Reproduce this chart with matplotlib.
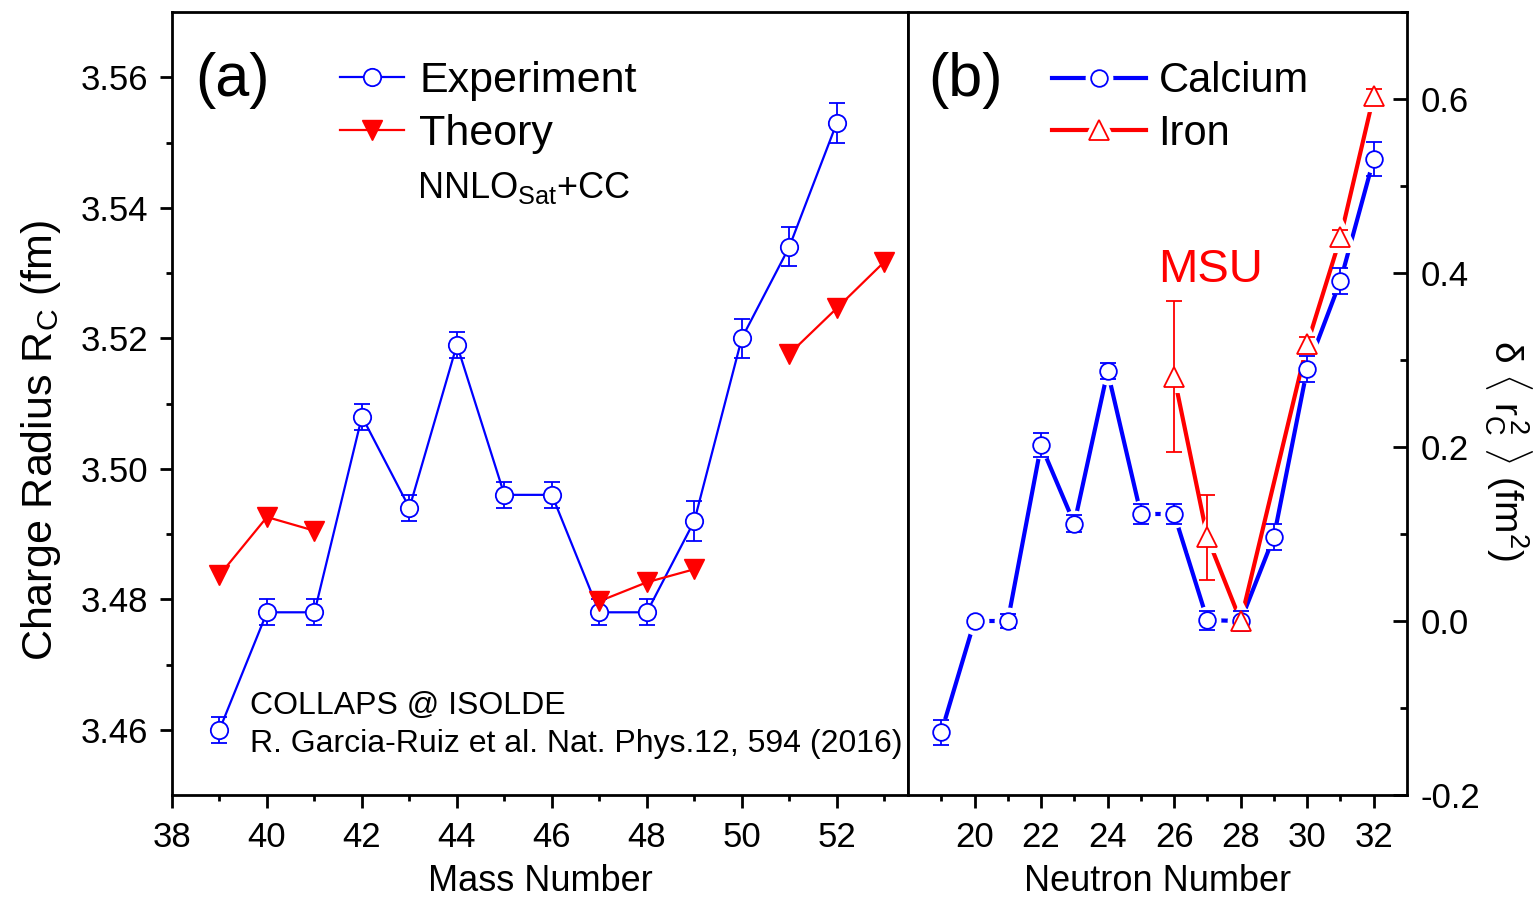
import numpy as np
import matplotlib
matplotlib.use("Agg")
import matplotlib.pyplot as plt
from matplotlib.ticker import FixedLocator, FormatStrFormatter
from matplotlib.legend_handler import HandlerTuple

plt.rcParams['font.family'] = ['Liberation Sans', 'DejaVu Sans']
plt.rcParams['mathtext.fontset'] = 'custom'
plt.rcParams['mathtext.rm'] = 'Liberation Sans'
plt.rcParams['mathtext.it'] = 'Liberation Sans:italic'
plt.rcParams['mathtext.sf'] = 'Liberation Sans'

# ---------------- data: panel (a) ----------------
exp_A = [39, 40, 41, 42, 43, 44, 45, 46, 47, 48, 49, 50, 51, 52]
exp_R = [3.460, 3.478, 3.478, 3.508, 3.494, 3.519, 3.496, 3.496, 3.478, 3.478, 3.492, 3.520, 3.534, 3.553]
exp_err = [0.002, 0.002, 0.002, 0.002, 0.002, 0.002, 0.002, 0.002, 0.002, 0.002, 0.003, 0.003, 0.003, 0.003]

theo_A = [39, 40, 41, 47, 48, 49, 51, 52, 53]
theo_R = [3.4837, 3.4926, 3.4905, 3.4797, 3.4826, 3.4846, 3.5176, 3.5246, 3.5317]

# ---------------- data: panel (b) ----------------
ca_N = [19, 20, 21, 22, 23, 24, 25, 26, 27, 28, 29, 30, 31, 32]
ca_dr2 = [-0.128, 0.0, 0.0, 0.202, 0.112, 0.287, 0.123, 0.123, 0.001, 0.0, 0.097, 0.290, 0.391, 0.531]
ca_err = [0.014, 0.003, 0.008, 0.014, 0.010, 0.009, 0.011, 0.011, 0.011, 0.011, 0.015, 0.015, 0.015, 0.019]

fe_N = [26, 27, 28, 30, 31, 32]
fe_dr2 = [0.281, 0.096, 0.0, 0.318, 0.441, 0.604]
fe_err = [0.087, 0.049, 0.004, 0.008, 0.008, 0.008]

BLUE = '#0000ff'
RED = '#ff0000'

W, H = 1540, 898
fig = plt.figure(figsize=(W / 100, H / 100), dpi=100)

bot = 1 - 795 / H
hgt = (795 - 12) / H
ax1 = fig.add_axes([172 / W, bot, (908 - 172) / W, hgt])
ax2 = fig.add_axes([908 / W, bot, (1407 - 908) / W, hgt])

for ax in (ax1, ax2):
    for s in ax.spines.values():
        s.set_linewidth(2.0)

# ---------------- panel (a) ----------------
ax1.errorbar(exp_A, exp_R, yerr=exp_err, fmt='none', ecolor=BLUE, elinewidth=1.3,
             capsize=6, capthick=1.3, zorder=3)
ax1.plot(exp_A, exp_R, '-', color=BLUE, lw=1.6, zorder=2)
ax1.plot(exp_A, exp_R, 'o', ms=12.5, mfc='white', mec=BLUE, mew=1.3, zorder=4)

# theory drawn in consecutive groups
tA = np.array(theo_A, dtype=float)
tR = np.array(theo_R, dtype=float)
breaks = np.where(np.diff(tA) > 1)[0] + 1
for ga, gr in zip(np.split(tA, breaks), np.split(tR, breaks)):
    ax1.plot(ga, gr, '-', color=RED, lw=1.6, zorder=2)
ax1.plot(tA, tR, 'v', ms=15, color=RED, mec=RED, zorder=5)

ax1.set_xlim(38, 53.5)
ax1.set_ylim(3.45, 3.57)
ax1.xaxis.set_major_locator(FixedLocator(np.arange(38, 53, 2)))
ax1.xaxis.set_minor_locator(FixedLocator(np.arange(39, 54, 2)))
ax1.yaxis.set_major_locator(FixedLocator(np.round(np.arange(3.46, 3.561, 0.02), 2)))
ax1.yaxis.set_minor_locator(FixedLocator(np.round(np.arange(3.47, 3.561, 0.02), 2)))
ax1.yaxis.set_major_formatter(FormatStrFormatter('%.2f'))
ax1.tick_params(axis='both', which='major', direction='out', length=9, width=2,
                labelsize=25, pad=10)
ax1.tick_params(axis='both', which='minor', direction='out', length=4.5, width=2)
ax1.tick_params(axis='y', which='major', pad=8)
ax1.tick_params(top=False, right=False, which='both')
ax1.set_xlabel('Mass Number', fontsize=26, labelpad=7)
ax1.set_ylabel(r'Charge Radius R$_\mathrm{C}$ (fm)', fontsize=31)
ax1.yaxis.set_label_coords(-0.148, 0.453)

ax1.text(0.031, 0.912, '(a)', transform=ax1.transAxes, fontsize=44,
         ha='left', va='center')

h_exp, = ax1.plot([], [], '-o', color=BLUE, lw=1.6, ms=12.5, mfc='white', mec=BLUE, mew=1.3)
h_th, = ax1.plot([], [], '-v', color=RED, lw=1.6, ms=15, mec=RED)
ax1.legend([h_exp, h_th], ['Experiment', 'Theory'], loc='upper left',
           bbox_to_anchor=(0.228, 0.937), frameon=False, fontsize=31,
           handlelength=1.5, handletextpad=0.35, labelspacing=0.3,
           borderpad=0, borderaxespad=0, numpoints=1)

ax1.text(0.333, 0.775, r'NNLO$_\mathrm{Sat}$+CC', transform=ax1.transAxes,
         fontsize=26, ha='left', va='center')
ax1.text(0.106, 0.1137, 'COLLAPS @ ISOLDE', transform=ax1.transAxes,
         fontsize=23, ha='left', va='center')
ax1.text(0.106, 0.065, 'R. Garcia-Ruiz et al. Nat. Phys.12, 594 (2016)',
         transform=ax1.transAxes, fontsize=23, ha='left', va='center')

# ---------------- panel (b) ----------------
# lines with gaps around markers (white halos)
ax2.plot(ca_N, ca_dr2, '-', color=BLUE, lw=3.0, zorder=1)
ax2.plot(ca_N, ca_dr2, 'o', ms=12, mfc='white', mec='white', mew=8, zorder=1.5)
ax2.plot(fe_N, fe_dr2, '-', color=RED, lw=3.0, zorder=2)
ax2.plot(fe_N, fe_dr2, '^', ms=14, mfc='white', mec='white', mew=8, zorder=2.5)

ax2.errorbar(ca_N, ca_dr2, yerr=ca_err, fmt='none', ecolor=BLUE, elinewidth=1.3,
             capsize=6, capthick=1.3, zorder=3)
ax2.errorbar(fe_N, fe_dr2, yerr=fe_err, fmt='none', ecolor=RED, elinewidth=1.3,
             capsize=6, capthick=1.3, zorder=3)
ax2.plot(ca_N, ca_dr2, 'o', ms=12, mfc='white', mec=BLUE, mew=1.3, zorder=4)
ax2.plot(fe_N, fe_dr2, '^', ms=14, mfc='white', mec=RED, mew=1.3, zorder=5)

ax2.set_xlim(18, 33)
ax2.set_ylim(-0.2, 0.7)
ax2.xaxis.set_major_locator(FixedLocator(np.arange(20, 33, 2)))
ax2.xaxis.set_minor_locator(FixedLocator(np.arange(19, 33, 2)))
ax2.yaxis.set_major_locator(FixedLocator(np.round(np.arange(-0.2, 0.61, 0.2), 1)))
ax2.yaxis.set_minor_locator(FixedLocator(np.round(np.arange(-0.1, 0.71, 0.2), 1)))
ax2.yaxis.set_major_formatter(FormatStrFormatter('%.1f'))
ax2.tick_params(axis='x', which='major', direction='out', length=9, width=2,
                labelsize=25, pad=10)
ax2.tick_params(axis='x', which='minor', direction='out', length=4.5, width=2)
ax2.tick_params(axis='y', which='major', direction='in', length=10, width=2,
                labelsize=25, pad=10, left=False, labelleft=False,
                right=True, labelright=True)
ax2.tick_params(axis='y', which='minor', direction='in', length=5, width=2,
                left=False, right=True)
ax2.tick_params(top=False, which='both')
ax2.set_xlabel('Neutron Number', fontsize=26, labelpad=7)
ax2.yaxis.set_label_position('right')
ax2.set_ylabel(r'$\mathrm{\delta}\ \langle\ \mathrm{r}_\mathrm{C}^{\,2}\ \rangle\ (\mathrm{fm}^{2})$',
               fontsize=28, rotation=270)
ax2.yaxis.set_label_coords(1.255, 0.44)

ax2.text(0.04, 0.912, '(b)', transform=ax2.transAxes, fontsize=44,
         ha='left', va='center')
ax2.text(0.501, 0.670, 'MSU', transform=ax2.transAxes, fontsize=34,
         color=RED, ha='left', va='center')

l_ca, = ax2.plot([], [], '-', color=BLUE, lw=3.0)
k_ca, = ax2.plot([], [], 'o', ms=12, mfc='white', mec='white', mew=8)
m_ca, = ax2.plot([], [], 'o', ms=12, mfc='white', mec=BLUE, mew=1.3)
l_fe, = ax2.plot([], [], '-', color=RED, lw=3.0)
k_fe, = ax2.plot([], [], '^', ms=14, mfc='white', mec='white', mew=8)
m_fe, = ax2.plot([], [], '^', ms=14, mfc='white', mec=RED, mew=1.3)
ax2.legend([(l_ca, k_ca, m_ca), (l_fe, k_fe, m_fe)], ['Calcium', 'Iron'],
           handler_map={tuple: HandlerTuple(ndivide=1)},
           loc='upper left', bbox_to_anchor=(0.289, 0.937), frameon=False,
           fontsize=30, handlelength=2.25, handletextpad=0.3, labelspacing=0.3,
           borderpad=0, borderaxespad=0, numpoints=1)

fig.savefig('out.png', dpi=100)
